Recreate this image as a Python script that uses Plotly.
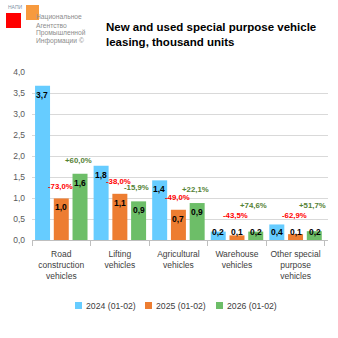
import plotly.graph_objects as go

categories = ["Road<br>construction<br>vehicles", "Lifting<br>vehicles", "Agricultural<br>vehicles",
              "Warehouse<br>vehicles", "Other special<br>purpose<br>vehicles"]
series_names = ["2024 (01-02)", "2025 (01-02)", "2026 (01-02)"]
v2024 = [3.67, 1.77, 1.42, 0.20, 0.37]
v2025 = [0.99, 1.10, 0.72, 0.11, 0.14]
v2026 = [1.58, 0.92, 0.88, 0.20, 0.21]
chg2025 = ["-73,0%", "-38,0%", "-49,0%", "-43,5%", "-62,9%"]
chg2026 = ["+60,0%", "-15,9%", "+22,1%", "+74,6%", "+51,7%"]
y_ticks = [0, 0.5, 1, 1.5, 2, 2.5, 3, 3.5, 4]

colors = ["#66CCFF", "#ED7D31", "#6DBE68"]
W, H = 338, 338
L, R, T, B = 32, 10, 72, 98
BARGAP, GROUPGAP = 0.04, 0.2
FONT = "Liberation Sans, Arial, sans-serif"

fig = go.Figure()
series = [v2024, v2025, v2026]
for name, vals, c in zip(series_names, series, colors):
    fig.add_trace(go.Bar(x=categories, y=vals, name=name, marker=dict(color=c, line=dict(width=0))))

plot_w = W - L - R
plot_h = H - T - B
cat_w = plot_w / len(categories)
slot = cat_w * (1 - BARGAP) / 3

def fmt(v):
    return f"{v:.1f}".replace(".", ",")

def px(x):
    return (x - L) / plot_w
def py(y):
    return (H - B - y) / plot_h

ann = []
for k, vals in enumerate(series):
    for i, v in enumerate(vals):
        ann.append(dict(x=categories[i], y=max(v, 0.4), xref="x", yref="y", text="<b>" + fmt(v) + "</b>",
                        showarrow=False, yanchor="top", yshift=-2, xshift=(k - 1) * slot,
                        font=dict(family=FONT, size=8.5, color="#000000")))
for i, v in enumerate(v2025):
    ann.append(dict(x=categories[i], y=max(v, 0.3) + 0.29, xref="x", yref="y", text="<b>" + chg2025[i] + "</b>",
                    showarrow=False, yanchor="middle", xshift=-1,
                    font=dict(family=FONT, size=7.8, color="#FF0000")))
for i, v in enumerate(v2026):
    ann.append(dict(x=categories[i], y=max(v, 0.5) + 0.32, xref="x", yref="y", text="<b>" + chg2026[i] + "</b>",
                    showarrow=False, yanchor="middle", xshift=slot - 2,
                    font=dict(family=FONT, size=7.8, color="#548235")))

shapes = [
    dict(type="rect", xref="paper", yref="paper", x0=px(6), x1=px(21), y0=py(28), y1=py(13),
         fillcolor="#FF0000", line=dict(width=0), layer="above"),
    dict(type="rect", xref="paper", yref="paper", x0=px(26), x1=px(39), y0=py(20), y1=py(5),
         fillcolor="#F79A3E", line=dict(width=0), layer="above"),
]
ann.append(dict(x=px(6), y=py(7), xref="paper", yref="paper", text="НАПИ", showarrow=False,
                xanchor="left", yanchor="middle", font=dict(family="Liberation Sans", size=5, color="#7F8FA6")))
for j, line in enumerate(["Национальное", "Агентство", "Промышленной", "Информации ©"]):
    ann.append(dict(x=px(34), y=py(17 + 8 * j), xref="paper", yref="paper", text=line, showarrow=False,
                    xanchor="left", yanchor="middle",
                    font=dict(family="Liberation Sans", size=6.7, color="#8C8C8C")))

# compact legend (Excel style): small square + label
legend_x = [75, 145, 216]
for name, c, lx in zip(series_names, colors, legend_x):
    shapes.append(dict(type="rect", xref="paper", yref="paper", x0=px(lx), x1=px(lx + 7),
                       y0=py(309), y1=py(302), fillcolor=c, line=dict(width=0)))
    ann.append(dict(x=px(lx + 9), y=py(305.5), xref="paper", yref="paper", text=name, showarrow=False,
                    xanchor="left", yanchor="middle", font=dict(family=FONT, size=8.7, color="#404040")))

fig.update_layout(
    width=W, height=H, margin=dict(l=L, r=R, t=T, b=B),
    paper_bgcolor="white", plot_bgcolor="white",
    barmode="group", bargap=BARGAP, bargroupgap=GROUPGAP,
    separators=", ",
    title=dict(text="<b>New and used special purpose vehicle<br>leasing, thousand units</b>",
               x=106 / W, xref="container", xanchor="left", y=1 - 31 / H, yref="container", yanchor="top",
               font=dict(family="Liberation Sans, Arial", size=11.5, color="#000000")),
    font=dict(family=FONT, size=8.5, color="#404040"),
    showlegend=False,
    annotations=ann, shapes=shapes,
)
fig.update_xaxes(showgrid=False, showline=True, linecolor="#BFBFBF", linewidth=1, tickangle=0,
                 ticks="outside", tickson="boundaries", ticklen=5, tickcolor="#BFBFBF",
                 ticklabelstandoff=6,
                 tickfont=dict(family=FONT, size=8.5, color="#404040"))
fig.update_yaxes(range=[0, 4], tickvals=y_ticks, tickformat=".1f", showgrid=True, gridcolor="#D9D9D9",
                 gridwidth=1, zeroline=False, showline=False, ticks="", ticklabelstandoff=6,
                 tickfont=dict(family=FONT, size=8.5, color="#595959"))

fig.write_html("out.html")
